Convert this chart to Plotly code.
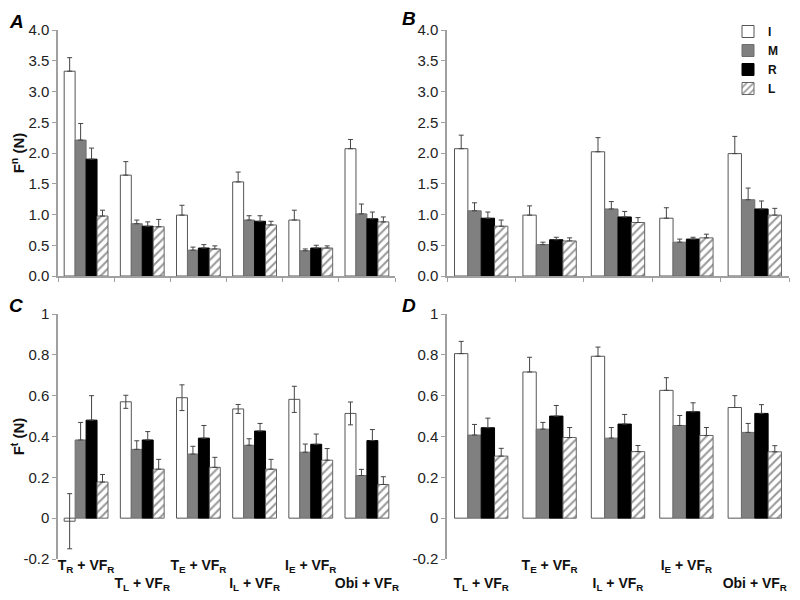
import plotly.graph_objects as go

# ---------------- data ----------------
series_names = ["I", "M", "R", "L"]

cats_AC = ["TR", "TL", "TE", "IL", "IE", "Obi"]
cats_BD = ["TL", "TE", "IL", "IE", "Obi"]

label_map = {
    "TR": "T<sub>R</sub> + VF<sub>R</sub>",
    "TL": "T<sub>L</sub> + VF<sub>R</sub>",
    "TE": "T<sub>E</sub> + VF<sub>R</sub>",
    "IL": "I<sub>L</sub> + VF<sub>R</sub>",
    "IE": "I<sub>E</sub> + VF<sub>R</sub>",
    "Obi": "Obi + VF<sub>R</sub>",
}
# which labels sit on the lower row
lower_C = ["TL", "IL", "Obi"]
lower_D = ["TL", "IL", "Obi"]

A_I = [3.33, 1.64, 0.99, 1.53, 0.91, 2.07]
A_I_err = [0.22, 0.22, 0.16, 0.16, 0.16, 0.15]
A_M = [2.21, 0.85, 0.42, 0.91, 0.41, 1.01]
A_M_err = [0.27, 0.06, 0.05, 0.07, 0.03, 0.16]
A_R = [1.90, 0.81, 0.455, 0.89, 0.455, 0.93]
A_R_err = [0.18, 0.07, 0.055, 0.09, 0.045, 0.11]
A_L = [0.975, 0.80, 0.44, 0.83, 0.455, 0.88]
A_L_err = [0.095, 0.12, 0.05, 0.06, 0.035, 0.08]

B_I = [2.07, 0.99, 2.02, 0.94, 1.99]
B_I_err = [0.22, 0.15, 0.23, 0.17, 0.28]
B_M = [1.06, 0.51, 1.09, 0.55, 1.24]
B_M_err = [0.13, 0.04, 0.12, 0.05, 0.19]
B_R = [0.94, 0.59, 0.96, 0.60, 1.09]
B_R_err = [0.10, 0.04, 0.09, 0.03, 0.13]
B_L = [0.81, 0.57, 0.87, 0.62, 0.99]
B_L_err = [0.10, 0.05, 0.08, 0.06, 0.11]

C_I = [-0.015, 0.57, 0.59, 0.535, 0.582, 0.513]
C_I_err = [0.135, 0.032, 0.063, 0.022, 0.064, 0.056]
C_M = [0.383, 0.337, 0.314, 0.357, 0.323, 0.209]
C_M_err = [0.086, 0.042, 0.038, 0.032, 0.04, 0.03]
C_R = [0.48, 0.383, 0.392, 0.427, 0.362, 0.38]
C_R_err = [0.12, 0.041, 0.062, 0.037, 0.05, 0.054]
C_L = [0.177, 0.24, 0.249, 0.24, 0.284, 0.165]
C_L_err = [0.037, 0.048, 0.049, 0.048, 0.057, 0.038]

D_I = [0.806, 0.716, 0.793, 0.626, 0.542]
D_I_err = [0.06, 0.072, 0.045, 0.062, 0.058]
D_M = [0.407, 0.436, 0.392, 0.454, 0.42]
D_M_err = [0.052, 0.033, 0.052, 0.049, 0.044]
D_R = [0.443, 0.50, 0.461, 0.521, 0.513]
D_R_err = [0.047, 0.052, 0.047, 0.044, 0.043]
D_L = [0.304, 0.395, 0.326, 0.405, 0.325]
D_L_err = [0.038, 0.049, 0.03, 0.039, 0.03]

yticks_top = [0, 0.5, 1.0, 1.5, 2.0, 2.5, 3.0, 3.5, 4.0]
yticks_top_text = ["0.0", "0.5", "1.0", "1.5", "2.0", "2.5", "3.0", "3.5", "4.0"]
yticks_bot = [-0.2, 0, 0.2, 0.4, 0.6, 0.8, 1.0]
yticks_bot_text = ["-0.2", "0", "0.2", "0.4", "0.6", "0.8", "1"]

# ---------------- styles ----------------
FONT = "Liberation Sans, Arial, sans-serif"
AXC = "#a0a0a0"
styles = {
    "I": dict(color="white", line=dict(color="#555555", width=1)),
    "M": dict(color="#808080", line=dict(color="#6e6e6e", width=1)),
    "R": dict(color="#000000", line=dict(color="#000000", width=1)),
    "L": dict(color="white", line=dict(color="#666666", width=1),
              pattern=dict(shape="/", fgcolor="#333333", bgcolor="white",
                           size=6, solidity=0.35)),
}

fig = go.Figure()

panels = [
    ("x", "y", cats_AC, [A_I, A_M, A_R, A_L], [A_I_err, A_M_err, A_R_err, A_L_err], False, False),
    ("x2", "y2", cats_BD, [B_I, B_M, B_R, B_L], [B_I_err, B_M_err, B_R_err, B_L_err], True, False),
    ("x3", "y3", cats_AC, [C_I, C_M, C_R, C_L], [C_I_err, C_M_err, C_R_err, C_L_err], False, True),
    ("x4", "y4", cats_BD, [D_I, D_M, D_R, D_L], [D_I_err, D_M_err, D_R_err, D_L_err], False, False),
]

for xa, ya, cats, vals, errs, legend, sym_I in panels:
    for name, v, e in zip(series_names, vals, errs):
        symmetric = sym_I and name == "I"
        fig.add_trace(go.Bar(
            x=cats, y=v, name="<b>%s</b>" % name, xaxis=xa, yaxis=ya,
            marker=styles[name], showlegend=legend, legendgroup=name,
            error_y=dict(type="data", array=e, symmetric=symmetric,
                         arrayminus=None if symmetric else [0] * len(e),
                         color="#444444", thickness=1, width=2.5),
        ))

# ---------------- layout ----------------
W, H = 800, 600
OFF = 8  # page body margin of the browser

def px_x(a, b):
    return [(a - OFF) / W, (b - OFF) / W]

def px_y(top, bottom):
    return [1 - (bottom - OFF) / H, 1 - (top - OFF) / H]

xdomA = px_x(58, 395)
xdomB = px_x(447, 789)
ydomTop = px_y(30, 276)
ydomBot = px_y(314, 559)

tickfont = dict(family=FONT, size=15, color="#222222")
labfont = dict(family=FONT, size=14, color="#111111")

def yax(dom, rng, tv, tt, anchor, title=None):
    d = dict(domain=dom, range=rng, tickvals=tv, ticktext=tt, anchor=anchor,
             showline=True, linecolor=AXC, linewidth=1.5, ticks="outside",
             ticklen=4, tickcolor=AXC, showgrid=False, zeroline=False,
             tickfont=tickfont, automargin=False)
    if title:
        d["title"] = dict(text=title, font=dict(family=FONT, size=15, color="#111111"),
                          standoff=0)
    return d

def cat_ticktext(cats, lower):
    return [("<br><b>%s</b>" % label_map[c]) if c in lower else "<b>%s</b>" % label_map[c]
            for c in cats]

zero_pos = ydomBot[0] + (ydomBot[1] - ydomBot[0]) / 6

fig.update_layout(
    width=W, height=H,
    margin=dict(l=0, r=0, t=0, b=0),
    paper_bgcolor="white", plot_bgcolor="white",
    barmode="group", bargap=0.22, bargroupgap=0,
    font=dict(family=FONT),
    xaxis=dict(domain=xdomA, anchor="y", showline=True, linecolor=AXC, linewidth=1.5,
               ticks="outside", tickson="boundaries", ticklen=4, tickcolor=AXC,
               showticklabels=False, showgrid=False, automargin=False),
    xaxis2=dict(domain=xdomB, anchor="y2", showline=True, linecolor=AXC, linewidth=1.5,
                ticks="outside", tickson="boundaries", ticklen=4, tickcolor=AXC,
                showticklabels=False, showgrid=False, automargin=False),
    xaxis3=dict(domain=xdomA, anchor="y3", showline=False, ticks="",
                tickvals=cats_AC, ticktext=cat_ticktext(cats_AC, lower_C),
                tickfont=labfont, showgrid=False, tickangle=0, automargin=False,
                ticklabelstandoff=-4),
    xaxis4=dict(domain=xdomB, anchor="y4", showline=False, ticks="",
                tickvals=cats_BD, ticktext=cat_ticktext(cats_BD, lower_D),
                tickfont=labfont, showgrid=False, tickangle=0, automargin=False,
                ticklabelstandoff=-4),
    # zero lines with boundary ticks for the lower panels
    xaxis5=dict(domain=xdomA, overlaying="x3", anchor="free", position=zero_pos,
                type="linear", range=[-0.5, len(cats_AC) - 0.5],
                tickvals=[i + 0.5 for i in range(-1, len(cats_AC))],
                showticklabels=False, showline=True, linecolor=AXC, linewidth=1.5,
                ticks="outside", ticklen=4, tickcolor=AXC, showgrid=False, zeroline=False,
                automargin=False),
    xaxis6=dict(domain=xdomB, overlaying="x4", anchor="free", position=zero_pos,
                type="linear", range=[-0.5, len(cats_BD) - 0.5],
                tickvals=[i + 0.5 for i in range(-1, len(cats_BD))],
                showticklabels=False, showline=True, linecolor=AXC, linewidth=1.5,
                ticks="outside", ticklen=4, tickcolor=AXC, showgrid=False, zeroline=False,
                automargin=False),
    yaxis=yax(ydomTop, [0, 4.0], yticks_top, yticks_top_text, "x",
              "<b>F<sup>n</sup> (N)</b>"),
    yaxis2=yax(ydomTop, [0, 4.0], yticks_top, yticks_top_text, "x2"),
    yaxis3=yax(ydomBot, [-0.2, 1.0], yticks_bot, yticks_bot_text, "x3",
               "<b>F<sup>t</sup> (N)</b>"),
    yaxis4=yax(ydomBot, [-0.2, 1.0], yticks_bot, yticks_bot_text, "x4"),
    legend=dict(x=(728 - OFF) / W, y=1 - (17 - OFF) / H, xanchor="left", yanchor="top",
                font=dict(family=FONT, size=12, color="#111111"),
                bgcolor="rgba(0,0,0,0)", itemwidth=30, tracegroupgap=0),
)

for txt, xp, yp in [("A", 7, 22), ("B", 400, 19), ("C", 7, 305), ("D", 400, 305)]:
    fig.add_annotation(text="<b><i>%s</i></b>" % txt, x=(xp - OFF) / W, y=1 - (yp - OFF) / H,
                       xref="paper", yref="paper",
                       showarrow=False, xanchor="left", yanchor="middle",
                       font=dict(family=FONT, size=19, color="#000000"))

fig.write_html("out.html")
